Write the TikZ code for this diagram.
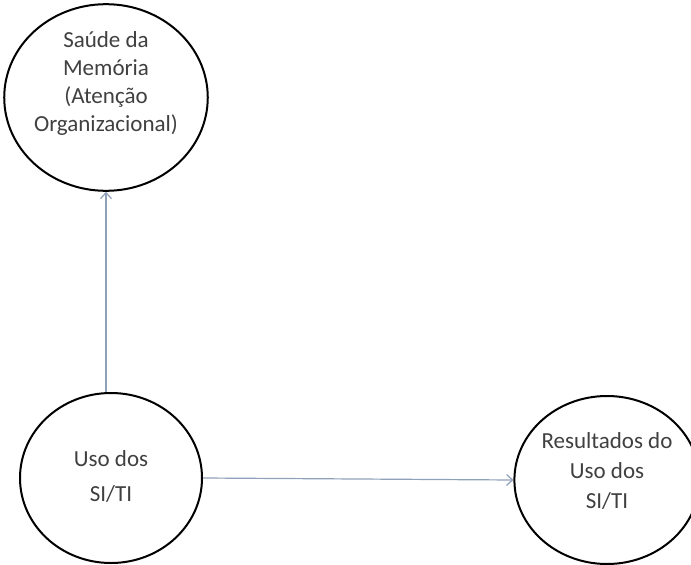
\documentclass[tikz,border=0pt]{standalone}
\usepackage{fontspec}
\setmainfont{Carlito}
\usetikzlibrary{shapes.geometric,arrows.meta}
\definecolor{setagrigia}{RGB}{143,160,185}
\tikzset{
  cerchio/.style={draw, ellipse, line width=2pt, inner sep=0pt, align=center,
    font=\fontsize{23}{28}\selectfont, text=black!75},
  freccia/.style={draw=setagrigia, line width=1.2pt, -{Straight Barb[length=6pt,width=11pt]}}
}
\begin{document}
\begin{tikzpicture}[x=1pt,y=-1pt]
            \useasboundingbox (0,0) rectangle (691,565);

            %disegna un ovale in alto
            \node [cerchio, minimum width=184pt, minimum height=171pt, text depth=32pt]
                (saude) at (106,97.5) {Saúde da\\Memória\\(Atenção\\Organizacional)};

            %disegna un ovale in basso
            \node [cerchio, minimum width=182pt, minimum height=170pt, text depth=3pt,
                font=\fontsize{23}{35}\selectfont]
                (uso) at (111,478) {Uso dos\\SI/TI};

            %disegna un ovale a destra
            \node [cerchio, minimum width=176pt, minimum height=168pt, text depth=18pt,
                font=\fontsize{23}{30}\selectfont]
                (result) at (607,480) {Resultados do\\Uso dos\\SI/TI};

            %frecce
            \draw [freccia] (uso.north -| saude.south) -- (saude.south);
            \draw [freccia] (uso.east) -- (result.west);

        \end{tikzpicture}
\end{document}
